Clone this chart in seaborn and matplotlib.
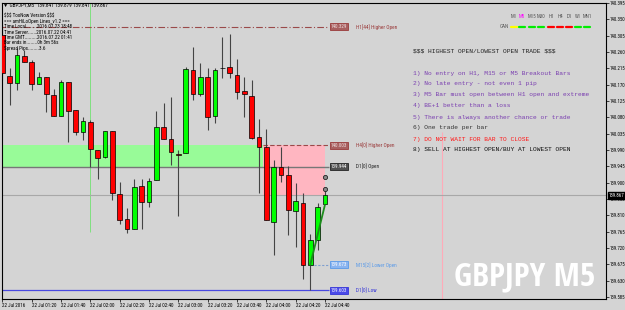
import matplotlib
matplotlib.use("Agg")
import logging
logging.getLogger("matplotlib.font_manager").setLevel(logging.ERROR)
import matplotlib.pyplot as plt
import seaborn as sns
import pandas as pd
from matplotlib.patches import Rectangle
from matplotlib.lines import Line2D
from matplotlib import font_manager

# ---------------- data ----------------
opens  = [140.307, 140.194, 140.175, 140.249, 140.232, 140.172, 140.191, 140.142, 140.084, 140.177,
          140.100, 140.040, 140.067, 139.990, 139.971, 140.042, 139.869, 139.800, 139.772, 139.890,
          139.846, 139.907, 140.053, 140.020, 139.979, 139.982, 140.210, 140.144, 140.191, 140.084,
          140.216, 140.219, 140.197, 140.153, 140.139, 140.026, 139.998, 139.791, 139.943, 139.921,
          139.822, 139.844, 139.673, 139.742, 139.841]
highs  = [140.334, 140.216, 140.271, 140.266, 140.238, 140.205, 140.191, 140.158, 140.183, 140.177,
          140.100, 140.081, 140.073, 139.990, 140.042, 140.042, 139.902, 139.830, 139.910, 139.910,
          139.912, 140.097, 140.119, 140.136, 139.990, 140.219, 140.274, 140.230, 140.216, 140.216,
          140.301, 140.310, 140.241, 140.191, 140.183, 140.075, 140.048, 139.962, 139.998, 139.946,
          139.899, 139.871, 139.758, 139.844, 139.879]
lows   = [140.183, 140.114, 140.155, 140.232, 140.155, 140.172, 140.095, 140.084, 140.084, 140.012,
          140.031, 140.017, 139.943, 139.910, 139.968, 139.852, 139.786, 139.761, 139.772, 139.772,
          139.833, 139.907, 140.020, 139.949, 139.808, 139.982, 140.128, 140.139, 140.045, 140.064,
          140.188, 140.188, 140.130, 140.081, 140.020, 139.871, 139.797, 139.700, 139.902, 139.756,
          139.723, 139.634, 139.603, 139.714, 139.841]
closes = [140.202, 140.175, 140.252, 140.232, 140.172, 140.191, 140.144, 140.084, 140.177, 140.097,
          140.040, 140.070, 139.993, 139.968, 140.042, 139.871, 139.797, 139.772, 139.888, 139.846,
          139.904, 140.053, 140.020, 139.984, 139.976, 140.213, 140.144, 140.191, 140.081, 140.210,
          140.215, 140.202, 140.150, 140.144, 140.023, 139.998, 139.797, 139.943, 139.921, 139.825,
          139.849, 139.673, 139.742, 139.833, 139.867]

time_labels = ["22 Jul 2016", "22 Jul 01:20", "22 Jul 01:40", "22 Jul 02:00", "22 Jul 02:20",
               "22 Jul 02:40", "22 Jul 03:00", "22 Jul 03:20", "22 Jul 03:40", "22 Jul 04:00",
               "22 Jul 04:20", "22 Jul 04:40"]
time_label_bars = [0, 4, 8, 12, 16, 20, 24, 28, 32, 36, 40, 44]

price_ticks = ["140.395", "140.350", "140.305", "140.260", "140.215", "140.170", "140.125",
               "140.080", "140.035", "139.990", "139.945", "139.900", "139.855", "139.810",
               "139.765", "139.720", "139.675", "139.630", "139.585"]

h1_higher_open = 140.329
h4_higher_open = 140.003
d1_open = 139.944
m15_lower_open = 139.673
d1_low = 139.603
bid = 139.867
marker_prices = [139.915, 139.882]
trend_bars = [42, 44]
trend_prices = [139.673, 139.838]

info_lines = ["$$$ TooNow Version $$$", "=== amHiLoOpen Lines_v1.2 ===",
              "Time Local........2016.07.23 18:48", "Time Server......2016.07.22 04:41",
              "Time GMT.........2016.07.22 01:41", "Bar ends in........0h 3m 56s",
              "Spread Pips........3.6"]
rules = ["$$$ HIGHEST OPEN/LOWEST OPEN TRADE $$$", "",
         "1) No entry on H1, M15 or M5 Breakout Bars",
         "2) No late entry - not even 1 pip",
         "3) M5 Bar must open between H1 open and extreme",
         "4) BE+1 better than a loss",
         "5) There is always another chance or trade",
         "6) One trade per bar",
         "7) DO NOT WAIT FOR BAR TO CLOSE",
         "8) SELL AT HIGHEST OPEN/BUY AT LOWEST OPEN"]
rule_colors = ["#222222", None, "#7a3fb0", "#7a3fb0", "#7a3fb0", "#7a3fb0", "#7a3fb0",
               "#333333", "#ff1a1a", "#111111"]
tf_names = ["M1", "M5", "M15", "M30", "H1", "H4", "D1", "W1", "MN1"]
tf_name_colors = ["#555555", "#ff00ff", "#555555", "#555555", "#555555", "#555555",
                  "#555555", "#555555", "#555555"]
tf_colors = ["#ffff00", "#00ee00", "#00ee00", "#00ee00", "#ff0000", "#ff0000", "#ff0000",
             "#00ee00", "#00ee00"]

# ---------------- style ----------------
BG = "#d4d4d4"
sns.set_style("white", {"axes.facecolor": BG, "figure.facecolor": BG,
                        "axes.edgecolor": "black"})
plt.rcParams["font.family"] = ["Liberation Sans", "DejaVu Sans"]
plt.rcParams["text.parse_math"] = False

installed = {f.name for f in font_manager.fontManager.ttflist}
cond_candidates = ["Roboto Condensed", "Noto Sans ExtraCondensed", "Noto Sans Condensed",
                   "Open Sans Condensed", "DejaVu Sans Condensed", "Liberation Sans Narrow"]
cond = [f for f in cond_candidates if f in installed]
narrow = (cond[:1] if cond else []) + ["Liberation Sans", "DejaVu Sans"]
xcond_candidates = ["Noto Sans ExtraCondensed", "Open Sans Condensed", "Roboto Condensed",
                    "Noto Sans Condensed", "Liberation Sans Narrow"]
xcond = [f for f in xcond_candidates if f in installed]
wm_family = (xcond[:1] if xcond else []) + ["Liberation Sans", "DejaVu Sans"]
wm_size = 22 if (xcond and xcond[0] == "Roboto Condensed") else 24
sans = ["Liberation Sans", "DejaVu Sans"]
mono = ["Liberation Mono", "DejaVu Sans Mono"]

W, H = 625, 310
fig = plt.figure(figsize=(W / 100, H / 100), dpi=100, facecolor=BG)
ax = fig.add_axes([2 / W, 11 / H, 604 / W, 296 / H])
ax.set_facecolor(BG)
ax.set_xlim(-0.05, 82.35)
ax.set_ylim(139.579, 140.395)


def fx(px):
    return px / W


def fy(py):
    return 1 - py / H


df = pd.DataFrame({"bar": range(len(opens)), "open": opens, "high": highs,
                   "low": lows, "close": closes})
df["bull"] = df["close"] >= df["open"]
df["bottom"] = df[["open", "close"]].min(axis=1)
df["height"] = (df["close"] - df["open"]).abs().clip(lower=0.0018)

# background zones
ax.add_patch(Rectangle((-1, d1_open), 36.6, h4_higher_open - d1_open,
                       facecolor="#98fb98", edgecolor="none", zorder=0))
ax.add_patch(Rectangle((35.6, bid), 8.4, h4_higher_open - bid,
                       facecolor="#ffb6c1", edgecolor="none", zorder=0))

# vertical lines
ax.vlines(12, 139.764, 140.40, color="#7fe07f", lw=0.7, zorder=0.5)
ax.vlines(60, 139.579, 140.04, color="#ffaab8", lw=0.8, zorder=0.5)

# horizontal level lines
ax.hlines(h1_higher_open, -1, 44.5, color="#9a4a4a", lw=0.8, linestyles=[(0, (6, 2, 1, 2))], zorder=1)
ax.hlines(h4_higher_open, 35.6, 44.5, color="#9a4a4a", lw=0.8, linestyles=[(0, (4, 2))], zorder=1)
ax.hlines(d1_open, -1, 44.5, color="#777777", lw=1.0, zorder=1)
ax.hlines(bid, -1, 83, color="#a8a8a8", lw=0.8, zorder=1)
ax.hlines(m15_lower_open, 42, 44.5, color="#7f9fcf", lw=0.8, linestyles=[(0, (2, 1.5))], zorder=1)
ax.hlines(d1_low, -1, 44.5, color="#4848e0", lw=0.9, zorder=1)

# candles
ax.vlines(df["bar"], df["low"], df["high"], color="#444444", lw=0.8, zorder=2)
ax.bar(df["bar"], df["height"], bottom=df["bottom"], width=0.62,
       color=["#00ff00" if b else "#ff0000" for b in df["bull"]],
       edgecolor="black", linewidth=0.5, zorder=3)

# trend line + markers
sns.lineplot(x=trend_bars, y=trend_prices, ax=ax, color="#1c8c1c", lw=1.3, zorder=4)
ax.scatter([44, 44], marker_prices, s=9, facecolor="#8a8a8a", edgecolor="#222222",
           linewidth=0.6, zorder=5)


# level labels
def level_label(price, val, boxc, txtc, name, namec):
    ax.text(44.8, price, val, fontsize=3.6, color=txtc, va="center", ha="left",
            family=narrow, zorder=6,
            bbox=dict(boxstyle="square,pad=0.2", fc=boxc, ec=namec, lw=0.6))
    ax.text(48.2, price, name, fontsize=3.8, color=namec, va="center", ha="left",
            family=narrow, zorder=6)


level_label(h1_higher_open, "140.329", "#a86060", "#f0e0e0", "H1[44] Higher Open", "#9a3a3a")
level_label(h4_higher_open, "140.003", "#a86060", "#f0e0e0", "H4[0] Higher Open", "#9a3a3a")
level_label(d1_open, "139.944", "#505050", "#ffffff", "D1[0] Open", "#222222")
level_label(m15_lower_open, "139.673", "#8ab4f0", "#ffffff", "M15[2] Lower Open", "#5a9ae8")
level_label(d1_low, "139.603", "#4a4ae8", "#ffffff", "D1[0] Low", "#3535d8")

# axes ticks
ax.yaxis.tick_right()
ax.set_yticks([float(t) for t in price_ticks])
ax.set_yticklabels(price_ticks, fontsize=3.5, family=narrow)
ax.set_xticks(time_label_bars)
ax.set_xticklabels(time_labels, fontsize=3.7, family=narrow)
for lab in ax.get_xticklabels():
    lab.set_ha("left")
ax.tick_params(axis="both", length=2, width=0.5, pad=0.8, colors="black", direction="out")
ax.tick_params(axis="y", right=True, left=False)
ax.tick_params(axis="x", bottom=True)
for s in ax.spines.values():
    s.set_color("black")
    s.set_linewidth(0.8)

# bid price box on the axis
fig.text(fx(608.5), fy(195.5), "139.867", fontsize=3.5, color="white", va="center", ha="left",
         family=narrow, bbox=dict(boxstyle="square,pad=0.12", fc="black", ec="black"))

# info block top-left
fig.text(fx(3), fy(5), "\u25bc GBPJPY,M5  139.841 139.879 139.841 139.867", fontsize=3.8,
         color="black", va="center", ha="left", family=narrow + ["DejaVu Sans"])
for i, t in enumerate(info_lines):
    fig.text(fx(4), fy(16 + i * 5.4), t, fontsize=3.7, color="black", va="center",
             ha="left", family=narrow)

# rules block
for i, (t, c) in enumerate(zip(rules, rule_colors)):
    if not t:
        continue
    yy = 51 if i == 0 else 73 + (i - 2) * 11
    fig.text(fx(413), fy(yy), t, fontsize=4.5, color=c, va="center", ha="left", family=mono)

# timeframe indicator
tf_x = [514, 522, 532, 541, 551, 560, 569, 578, 587]
for x, n, nc, c in zip(tf_x, tf_names, tf_name_colors, tf_colors):
    fig.text(fx(x), fy(16), n, fontsize=3.6, color=nc, va="center", ha="center", family=narrow)
    fig.add_artist(Line2D([fx(x - 3), fx(x + 3)], [fy(27), fy(27)], color=c, lw=1.6,
                          transform=fig.transFigure))
fig.text(fx(500), fy(27), "CAN", fontsize=3.8, color="#555555", va="center", ha="left",
         family=narrow)

# big watermark
fig.text(fx(595), fy(277), "GBPJPY M5", fontsize=wm_size, color="white", va="center",
         ha="right", fontweight="bold", family=wm_family)

fig.savefig("out.png", dpi=100, facecolor=BG)
